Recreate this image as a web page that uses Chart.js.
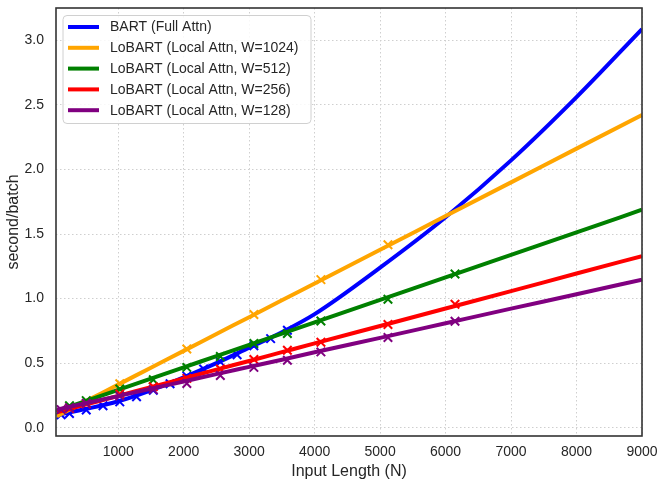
<!DOCTYPE html>
<html>
<head>
<meta charset="utf-8">
<script src="https://cdn.jsdelivr.net/npm/chart.js@4"></script>
<style>
  html, body { margin: 0; padding: 0; background: #fff; }
  #wrap { width: 665px; height: 487px; }
</style>
</head>
<body>
<div id="wrap"><canvas id="grafica" width="665" height="487"></canvas></div>
<script>
/* Datos */

// posiciones de muestreo de las curvas (longitud de entrada N)
let xCurva = [64, 500, 1000, 1500, 2000, 2500, 3000, 3500, 4000, 5000, 6000, 7000, 8000, 9000];

let bartCurva   = [0.10, 0.145, 0.205, 0.29, 0.39, 0.50, 0.62, 0.74, 0.88, 1.24, 1.63, 2.07, 2.56, 3.087];
let w1024Curva  = [0.09, 0.204, 0.334, 0.465, 0.595, 0.726, 0.856, 0.987, 1.117, 1.378, 1.639, 1.900, 2.161, 2.422];
let w512Curva   = [0.13, 0.206, 0.293, 0.380, 0.467, 0.555, 0.642, 0.729, 0.816, 0.990, 1.165, 1.339, 1.513, 1.688];
let w256Curva   = [0.12, 0.179, 0.247, 0.314, 0.382, 0.450, 0.517, 0.585, 0.653, 0.788, 0.923, 1.058, 1.194, 1.329];
let w128Curva   = [0.14, 0.189, 0.245, 0.302, 0.358, 0.415, 0.471, 0.527, 0.584, 0.696, 0.809, 0.922, 1.034, 1.147];

// puntos medidos (marcadores x)
let bartX  = [128, 256, 512, 768, 1024, 1280, 1536, 1792, 2048, 2304, 2560, 2816, 3072, 3328, 3584];
let bartY  = [0.10, 0.11, 0.137, 0.17, 0.20, 0.24, 0.29, 0.34, 0.40, 0.455, 0.51, 0.565, 0.635, 0.69, 0.755];
let w1024X = [1024, 2048, 3072, 4096, 5120];
let w1024Y = [0.34, 0.61, 0.877, 1.147, 1.417];
let w512X  = [256, 512, 1024, 1536, 2048, 2560, 3072, 3584, 4096, 5120, 6144];
let w512Y  = [0.17, 0.21, 0.30, 0.372, 0.467, 0.551, 0.652, 0.73, 0.827, 0.995, 1.19];
let w256X  = [256, 512, 1024, 1536, 2048, 2560, 3072, 3584, 4096, 5120, 6144];
let w256Y  = [0.15, 0.185, 0.262, 0.318, 0.382, 0.455, 0.529, 0.60, 0.662, 0.799, 0.956];
let w128X  = [128, 256, 512, 1024, 1536, 2048, 2560, 3072, 3584, 4096, 5120, 6144];
let w128Y  = [0.14, 0.155, 0.19, 0.245, 0.295, 0.343, 0.405, 0.467, 0.523, 0.587, 0.699, 0.825];

let etiquetas = ['BART (Full Attn)', 'LoBART (Local Attn, W=1024)', 'LoBART (Local Attn, W=512)',
                 'LoBART (Local Attn, W=256)', 'LoBART (Local Attn, W=128)'];
let colores = ['#0000ff', '#ffa500', '#008000', '#ff0000', '#800080'];

let xTicks = [1000, 2000, 3000, 4000, 5000, 6000, 7000, 8000, 9000];
let yTicks = [0.0, 0.5, 1.0, 1.5, 2.0, 2.5, 3.0];

const fuente = "'Liberation Sans', Arial, sans-serif";

function pares(xs, ys) {
    return xs.map((x, i) => ({x: x, y: ys[i]}));
}

let curvas = [bartCurva, w1024Curva, w512Curva, w256Curva, w128Curva];
let marcasX = [bartX, w1024X, w512X, w256X, w128X];
let marcasY = [bartY, w1024Y, w512Y, w256Y, w128Y];

let datasets = [];
for (let i = 0; i < 5; i++) {
    // el último (morado) queda encima, como en matplotlib
    datasets.push({
        label: etiquetas[i],
        data: pares(xCurva, curvas[i]),
        borderColor: colores[i],
        backgroundColor: colores[i],
        borderWidth: 4,
        pointRadius: 0,
        fill: false,
        cubicInterpolationMode: 'monotone',
        order: 20 - 2 * i
    });
    datasets.push({
        label: '_marcas' + i,
        type: 'scatter',
        data: pares(marcasX[i], marcasY[i]),
        borderColor: colores[i],
        backgroundColor: colores[i],
        pointStyle: 'crossRot',
        pointRadius: 6,
        borderWidth: 2,
        showLine: false,
        order: 19 - 2 * i
    });
}

// marco del eje y leyenda dentro del área de dibujo
const marcoLeyenda = {
    id: 'marcoLeyenda',
    afterDraw(chart) {
        const ctx = chart.ctx;
        const a = chart.chartArea;
        ctx.save();
        // leyenda
        let bx = a.left + 7, by = a.top + 7.5, bw = 248, bh = 108;
        ctx.beginPath();
        ctx.roundRect(bx, by, bw, bh, 4);
        ctx.fillStyle = 'rgba(255,255,255,0.85)';
        ctx.fill();
        ctx.strokeStyle = '#d0d0d0';
        ctx.lineWidth = 1;
        ctx.stroke();
        ctx.font = '14px ' + fuente;
        ctx.textBaseline = 'middle';
        for (let i = 0; i < etiquetas.length; i++) {
            let yy = by + 11.5 + i * 20.8;
            ctx.beginPath();
            ctx.moveTo(bx + 5, yy);
            ctx.lineTo(bx + 36, yy);
            ctx.strokeStyle = colores[i];
            ctx.lineWidth = 4;
            ctx.stroke();
            ctx.fillStyle = '#262626';
            ctx.fillText(etiquetas[i], bx + 47, yy + 0.5);
        }
        // marco
        ctx.strokeStyle = '#333333';
        ctx.lineWidth = 1.6;
        ctx.strokeRect(a.left, a.top, a.right - a.left, a.bottom - a.top);
        ctx.restore();
    }
};

new Chart(document.getElementById('grafica'), {
    type: 'line',
    data: { datasets: datasets },
    options: {
        responsive: false,
        animation: false,
        layout: { padding: { top: 7, right: 23, left: 0, bottom: 0 } },
        plugins: {
            legend: { display: false },
            tooltip: { enabled: false }
        },
        scales: {
            x: {
                type: 'linear',
                min: 50,
                max: 9000,
                afterBuildTicks: s => { s.ticks = xTicks.map(v => ({value: v})); },
                afterFit: s => { s.height = 51; s.paddingLeft = 0; s.paddingRight = 0; },
                ticks: {
                    color: '#262626',
                    font: { family: fuente, size: 14 },
                    padding: 8,
                    maxRotation: 0,
                    callback: v => String(v)
                },
                grid: { color: '#cfcfcf', lineWidth: 1, drawTicks: false },
                border: { display: false, dash: [1.5, 2.5] },
                title: {
                    display: true,
                    text: 'Input Length (N)',
                    color: '#262626',
                    font: { family: fuente, size: 16 },
                    padding: { top: 2, bottom: 6 }
                }
            },
            y: {
                type: 'linear',
                min: -0.064,
                max: 3.25,
                afterBuildTicks: s => { s.ticks = yTicks.map(v => ({value: v})); },
                afterFit: s => { s.width = 56; s.paddingTop = 0; s.paddingBottom = 0; },
                ticks: {
                    color: '#262626',
                    font: { family: fuente, size: 14 },
                    padding: 12,
                    callback: v => v.toFixed(1)
                },
                grid: { color: '#cfcfcf', lineWidth: 1, drawTicks: false },
                border: { display: false, dash: [1.5, 2.5] },
                title: {
                    display: true,
                    text: 'second/batch',
                    color: '#262626',
                    font: { family: fuente, size: 16 },
                    padding: { top: 4, bottom: 0 }
                }
            }
        }
    },
    plugins: [marcoLeyenda]
});
</script>
</body>
</html>
